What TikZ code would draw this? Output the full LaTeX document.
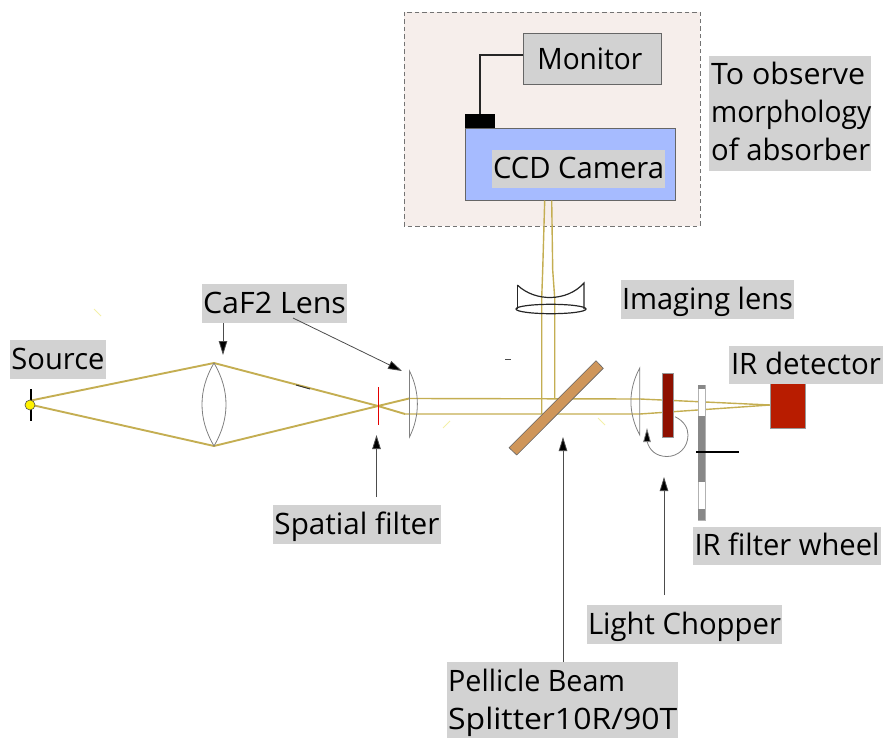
\documentclass[tikz,border=0pt]{standalone}
\usepackage{fontspec}
\usepackage{graphicx}
\setmainfont{Open Sans}
\usetikzlibrary{arrows.meta}
\definecolor{labelgray}{HTML}{D2D2D2}
\definecolor{ray}{HTML}{C4AE52}
\definecolor{framefill}{HTML}{F6EEEB}
\definecolor{camblue}{HTML}{A6BBFF}
\definecolor{splitter}{HTML}{CF965A}
\definecolor{chopper}{HTML}{8E1000}
\definecolor{detector}{HTML}{B81C00}
\definecolor{wheelgray}{HTML}{888888}
\definecolor{paleray}{HTML}{F4F0A8}
\tikzset{
  beam/.style={draw=ray,line width=1.9pt},
  thinbeam/.style={draw=ray,line width=1.4pt},
  optic/.style={draw=black!50,line width=0.8pt},
  pointer/.style={draw=black!70,line width=0.8pt,-{Triangle[length=14pt,width=8.5pt,fill=black]}},
  straymark/.style={draw=paleray,line width=0.9pt},
  txt/.style={font=\fontsize{29.5}{38}\selectfont,inner sep=0pt}
}
% \fitw{width}{text}: text set to an exact width
\newcommand{\fitw}[2]{\resizebox{#1pt}{\height}{#2}}
% \lab{name}{x0}{x1}{y0}{y1}{textwidth}{text}
\newcommand{\lab}[7]{\fill[labelgray] (#2,#4) rectangle (#3,#5);
  \node[txt,anchor=base] (#1) at ({(#2+#3)/2},{#5-9.5}) {\fitw{#6}{#7}};}
\begin{document}
\begin{tikzpicture}[x=1pt,y=-1pt]
\useasboundingbox (0,0) rectangle (889,738);
% observation enclosure
\draw[fill=framefill,draw=black!55,dash pattern=on 4.5pt off 3pt,line width=0.8pt] (404,12) rectangle (700,226);
\fill[camblue] (465,128) rectangle (675.5,200.5);
\draw[draw=black!60,line width=0.8pt] (465,128) rectangle (675.5,200.5);
\node[fill=black,minimum width=29.5pt,minimum height=14pt,inner sep=0pt,anchor=south west] (port) at (465,128) {};
\node[txt,fill=labelgray,draw=black!60,line width=0.8pt,minimum width=138pt,minimum height=51pt,anchor=north west] (monitor) at (523,33) {\kern-5pt\fitw{105}{Monitor}};
\coordinate (wiretop) at (523,55);
\draw[line width=1.3pt,black!85] (wiretop) -| (port.north);
\lab{ccd}{492}{665}{150}{188}{171}{CCD Camera}
% rays
\coordinate (l1t) at (214,363);
\coordinate (l1b) at (214,446);
\coordinate (focus) at (378,406);
\coordinate (l2u) at (409,398.5);
\coordinate (l2d) at (405,414);
\coordinate (l3u) at (640,399);
\coordinate (l3d) at (640,414);
\coordinate (det) at (770,405);
\draw[beam] (31,400.5) -- (l1t) -- (focus) -- (l2d);
\draw[beam] (32,405) -- (l1b) -- (focus) -- (l2u);
\draw[thinbeam] (l2u) -- (l3u) -- (det);
\draw[thinbeam] (l2d) -- (l3d) -- (det);
\draw[thinbeam] (554.7,399) -- (554.7,298) -- (552.7,270) -- (551.7,200.5);
\draw[thinbeam] (541.7,414) -- (541.7,298) -- (542.7,270) -- (544.7,200.5);
\draw[black!80,line width=0.9pt] (296,385) -- (310,389);
% stray marks
\draw[straymark] (94,309) -- (101,316);
\draw[straymark] (443,428) -- (450,421);
\draw[straymark] (598,418) -- (605,425);
\draw[black!70,line width=0.6pt] (505,359) -- (511,359);
% source and slit
\draw[black,line width=1.2pt] (31,389) -- (31,421);
\draw[fill=yellow,draw=black!70,line width=0.6pt] (30,405) circle (5);
\draw[red!90!black,line width=1.5pt] (378.5,387) -- (378.5,425);
% lenses
\draw[optic] (214,363) .. controls (198,390) and (198,419) .. (214,446) .. controls (230,419) and (230,390) .. (214,363);
\draw[optic] (409.5,371) .. controls (420,392) and (420,416) .. (409.5,437) -- cycle;
\draw[optic] (639.7,368) .. controls (628,390) and (628,413) .. (639.7,435) -- cycle;
% imaging lens
\draw[black!85,line width=1.2pt] (517.3,285) .. controls (535,302) and (567,302) .. (584,283) -- (584,309);
\draw[black!85,line width=1.2pt] (517.3,285) -- (517.3,309);
\draw[black!85,line width=1.2pt] (551,309) ellipse (35 and 4.7);
% beam splitter
\draw[fill=splitter,draw=black!60,line width=0.6pt] (596,360.7) -- (603.3,368.3) -- (516.7,455) -- (509,447.7) -- cycle;
\coordinate (splitbase) at (563,437);
% chopper
\draw[fill=chopper,draw=black!40,line width=0.5pt] (662,373) rectangle (673.6,437);
\coordinate (chopbase) at (664,477);
\draw[optic,-{Triangle[length=14pt,width=7.5pt,fill=black]}] (675,416.7) .. controls (684,421) and (688,428) .. (688,435) .. controls (688,448) and (678,456.5) .. (667,456.5) .. controls (656,456.5) and (649,450) .. (647,441) -- (647,428);
% filter wheel
\draw[fill=white,draw=black!30,line width=0.8pt] (698.3,385) rectangle (705,520);
\fill[wheelgray] (698.3,385) rectangle (705,389);
\fill[wheelgray] (698.3,416) rectangle (705,482);
\fill[wheelgray] (698.3,509) rectangle (705,520);
\draw[black,line width=2.8pt] (696,452) -- (739,452);
% detector
\draw[fill=detector,draw=black!40,line width=0.5pt] (770,382) rectangle (805,428);
% labels
\lab{source}{10}{106}{340}{378.5}{93}{Source}
\lab{caf}{202}{347}{284}{322.5}{143}{CaF2 Lens}
\lab{imaging}{621}{794}{280}{319}{171}{Imaging lens}
\lab{irdet}{729}{883}{346}{384}{150}{IR detector}
\lab{spatial}{273}{441}{505}{544}{165}{Spatial filter}
\lab{wheel}{693}{881}{527}{565}{185}{IR filter wheel}
\lab{chop}{587}{782}{605}{644}{193}{Light Chopper}
\fill[labelgray] (447,662) rectangle (678,738);
\node[txt,anchor=base west] (pel1) at (448,691) {\fitw{177}{Pellicle Beam}};
\node[txt,anchor=base west] (pel2) at (448,729) {\fitw{229}{Splitter10R/90T}};
\fill[labelgray] (709,56) rectangle (871,171);
\node[txt,anchor=base west] (obs1) at (711,85) {\fitw{154}{To observe}};
\node[txt,anchor=base west] (obs2) at (711,123) {\fitw{160}{morphology}};
\node[txt,anchor=base west] (obs3) at (711,161) {\fitw{159}{of absorber}};
% pointers
\coordinate (cafa) at (223,323);
\coordinate (cafb) at (223,355);
\coordinate (cafc) at (293,318);
\coordinate (cafd) at (402,371);
\coordinate (spa) at (376.5,497);
\coordinate (spb) at (376.5,435);
\coordinate (pela) at (563,662);
\coordinate (chopa) at (664,595);
\draw[pointer] (cafa) -- (cafb);
\draw[pointer] (cafc) -- (cafd);
\draw[pointer] (spa) -- (spb);
\draw[pointer] (pela) -- (splitbase);
\draw[pointer] (chopa) -- (chopbase);
\end{tikzpicture}
\end{document}
